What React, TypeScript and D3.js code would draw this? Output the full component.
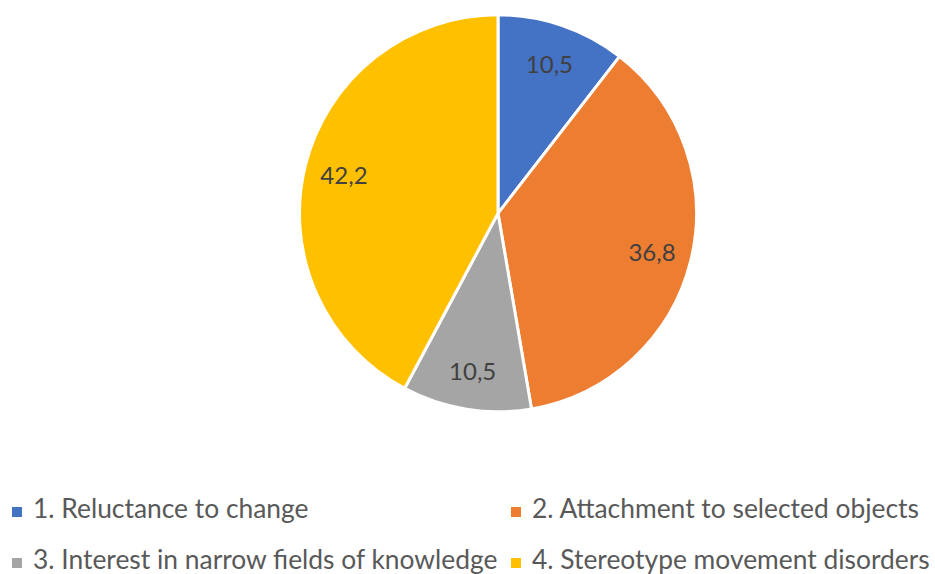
import React from "react";
import * as d3 from "d3";

const categories = [
  "1. Reluctance to change",
  "2. Attachment to selected objects",
  "3. Interest in narrow fields of knowledge",
  "4. Stereotype movement disorders",
];
const values = [10.5, 36.8, 10.5, 42.2];
const labels = ["10,5", "36,8", "10,5", "42,2"];
const colors = ["#4472C4", "#ED7D31", "#A5A5A5", "#FFC000"];

const W = 935;
const H = 574;
const cx = 498;
const cy = 213.3;
const R = 198.5;
const FONT = "Lato, 'Open Sans', sans-serif";

export default function App() {
  const pie = d3.pie<number>().sort(null).value((d) => d);
  const arcs = pie(values);
  const arc = d3.arc<d3.PieArcDatum<number>>().innerRadius(0).outerRadius(R);
  const labelArc = d3
    .arc<d3.PieArcDatum<number>>()
    .innerRadius(R * 0.8)
    .outerRadius(R * 0.8);

  const legendPos = [
    { x: 12, y: 518 },
    { x: 511, y: 518 },
    { x: 12, y: 569 },
    { x: 511, y: 569 },
  ];

  return (
    <svg
      width={W}
      height={H}
      style={{ position: "absolute", left: 0, top: 0, background: "#fff" }}
    >
      <g transform={`translate(${cx},${cy})`}>
        {arcs.map((a, i) => (
          <path
            key={i}
            d={arc(a) || ""}
            fill={colors[i]}
            stroke="#fff"
            strokeWidth={3}
            strokeLinejoin="round"
          />
        ))}
        {arcs.map((a, i) => {
          const [x, y] = labelArc.centroid(a);
          return (
            <text
              key={i}
              x={x}
              y={y}
              textAnchor="middle"
              dominantBaseline="central"
              fontFamily={FONT}
              fontSize={24}
              fill="#404040"
            >
              {labels[i]}
            </text>
          );
        })}
      </g>
      {categories.map((c, i) => (
        <g key={i} transform={`translate(${legendPos[i].x},${legendPos[i].y})`}>
          <rect x={0} y={-11} width={10} height={10} fill={colors[i]} />
          <text
            x={21}
            y={0}
            fontFamily={FONT}
            fontSize={26.4}
            fill="#595959"
          >
            {c}
          </text>
        </g>
      ))}
    </svg>
  );
}
